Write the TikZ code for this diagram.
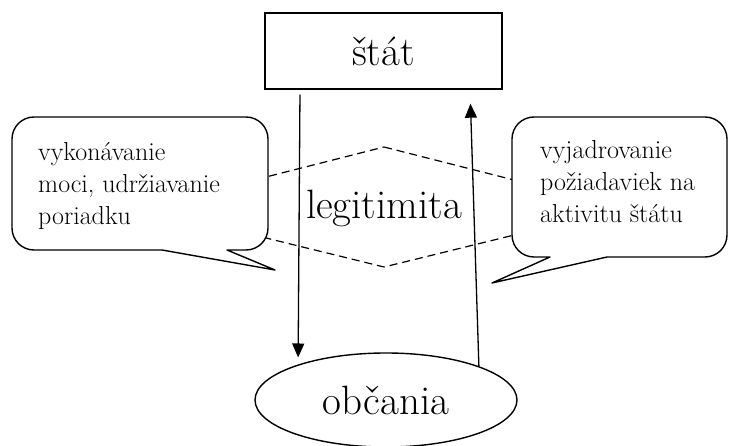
\documentclass[tikz,border=0pt]{standalone}
\usetikzlibrary{arrows.meta,shapes.geometric}

\begin{document}
\begin{tikzpicture}[
        x=1pt, y=-1pt,
        >={Triangle[length=14pt,width=12pt]},
        bigtext/.style={font=\fontsize{41}{46}\selectfont},
        smalltext/.style={font=\fontsize{26}{32}\selectfont,align=left,inner sep=0pt,anchor=north west},
        frame/.style={draw,line width=1.4pt},
        bubble/.style={draw,line width=1.4pt,fill=white,line join=round,line cap=round},
        hexline/.style={line width=1.2pt,dash pattern=on 8pt off 5pt},
        flow/.style={->,line width=1.3pt}
    ]
\useasboundingbox (0,0) rectangle (730,446);

\node[frame,bigtext,minimum width=237pt,minimum height=76pt] (stat) at (383.5,51) {štát};
\node[frame,bigtext,ellipse,minimum width=262pt,minimum height=94pt,inner sep=0pt] (obcania) at (386,400) {občania};
\node[bigtext,inner sep=0pt] (legit) at (384,208) {legitimita};

% dashed diamond, its side corners hidden by the bubbles
\draw[hexline] ([yshift=61pt]legit.center) -- ([xshift=240pt]legit.center)
    -- ([yshift=-59pt]legit.center) -- ([xshift=-240pt]legit.center) -- cycle;

\draw[bubble] (162,250) -- (275,270) -- (227,250) -- (240,250) [rounded corners=22pt] -- (268,250)
    -- (268,117) -- (12,117) -- (12,250) -- (162,250);
\draw[bubble] (607,257) -- (492,283) -- (550,257) -- (535,257) [rounded corners=22pt] -- (512,257)
    -- (512,117) -- (727,117) -- (727,257) -- (607,257);

\node[smalltext] (duty) at (38,142) {vykonávanie\\moci, udržiavanie\\poriadku};
\node[smalltext] (claim) at (540,140) {vyjadrovanie\\požiadaviek na\\aktivitu štátu};

\draw[flow,shorten <=5pt,shorten >=7pt] ([xshift=-83.5pt]stat.south) -- (obcania.158.5);
\draw[flow,shorten >=14pt] (obcania.20.5) -- ([xshift=86.5pt]stat.south);

\end{tikzpicture}
\end{document}
